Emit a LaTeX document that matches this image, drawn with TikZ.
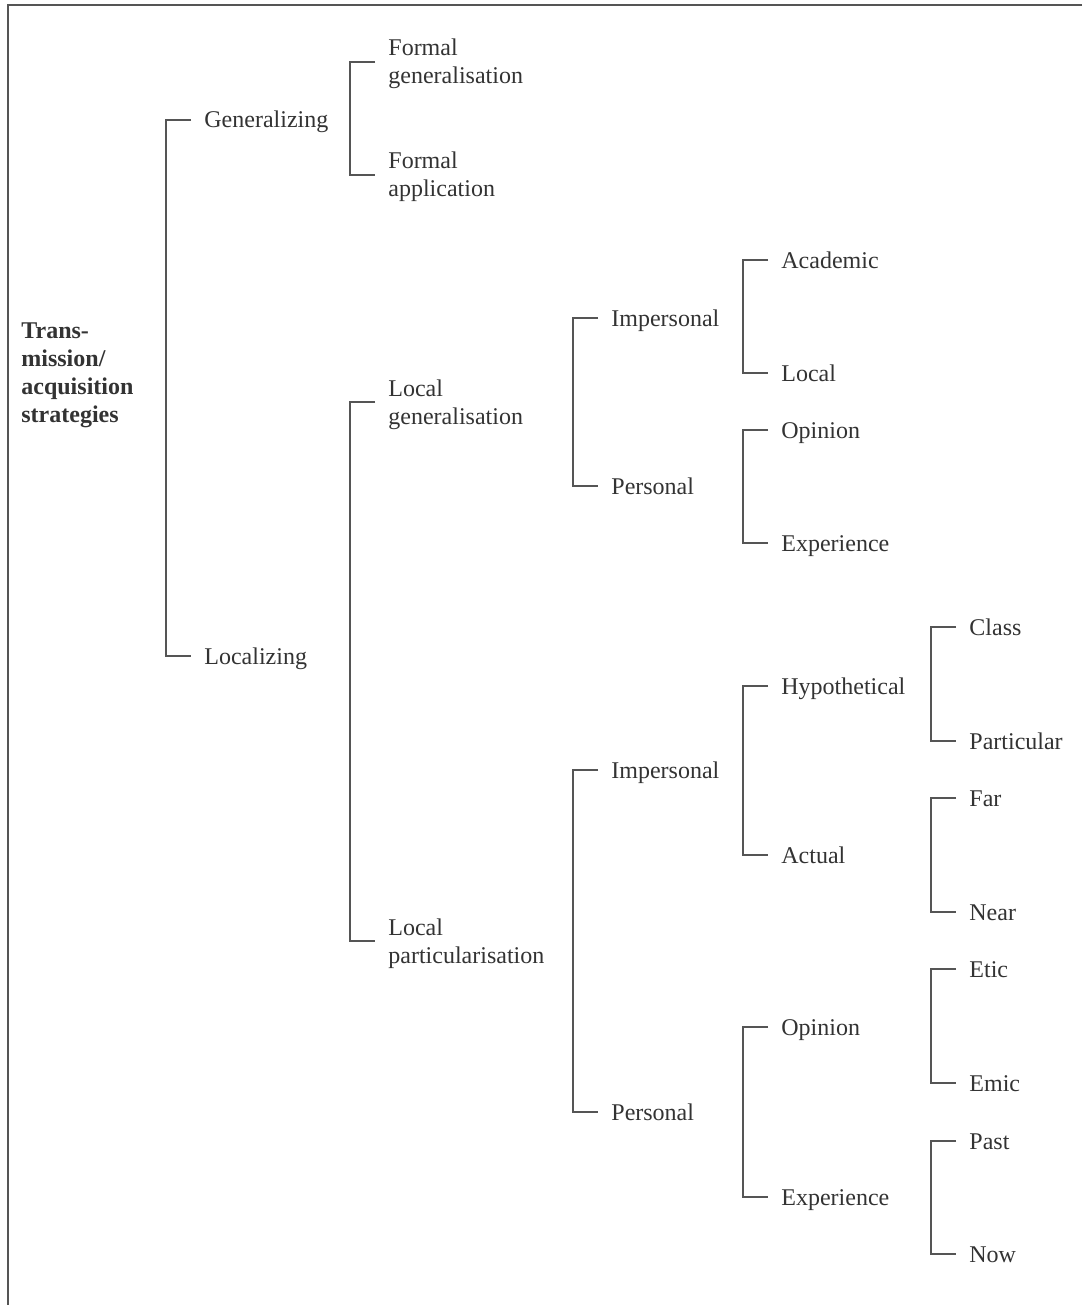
\documentclass[tikz,border=0pt]{standalone}
\usepackage{fontspec}
\setmainfont{Liberation Serif}
\definecolor{inkgrey}{HTML}{333333}
\definecolor{rulegrey}{HTML}{555555}
% two-line label, baseline on the first line
\newcommand{\twoline}[2]{\begin{tabular}[t]{@{}l@{}}#1\\#2\end{tabular}}
\tikzset{
  lbl/.style={anchor=west, inner sep=0pt, text height=11pt, text depth=3pt,
    text=inkgrey, font=\fontsize{12}{14}\selectfont},
  lbltwo/.style={lbl, text depth=17pt},
  rootlbl/.style={anchor=base west, inner sep=0pt, text=inkgrey,
    font=\fontsize{12}{14}\selectfont\bfseries},
  brace/.style={draw=rulegrey, line width=1pt},
  frameline/.style={draw=rulegrey, line width=1pt}
}
% bracket joining two sibling labels
\newcommand{\bracket}[2]{%
  \draw[brace] ([xshift=-6.5pt]#1.west) -- ++(-12.5pt,0) |- ([xshift=-6.5pt]#2.west);}
\begin{document}
\begin{tikzpicture}[x=0.5pt,y=-0.5pt]
\useasboundingbox (0,0) rectangle (1082,1305);
\fill[white] (0,0) rectangle (1082,1305);
% page frame (top and left edges)
\draw[frameline] (1082,5) -- (8,5) -- (8,1305);

% root
\node[rootlbl] (root) at (21,338) {\begin{tabular}[t]{@{}l@{}}Trans-\\mission/\\acquisition\\strategies\end{tabular}};

% level 1
\node[lbl] (gen) at (204,120) {Generalizing};
\node[lbl] (loc) at (204,656) {Localizing};

% level 2
\node[lbltwo] (fg) at (388,62) {\twoline{Formal}{generalisation}};
\node[lbltwo] (fa) at (388,175) {\twoline{Formal}{application}};
\node[lbltwo] (lg) at (388,402) {\twoline{Local}{generalisation}};
\node[lbltwo] (lp) at (388,941) {\twoline{Local}{particularisation}};

% level 3
\node[lbl] (imA) at (611,318) {Impersonal};
\node[lbl] (peA) at (611,486) {Personal};
\node[lbl] (imB) at (611,770) {Impersonal};
\node[lbl] (peB) at (611,1112) {Personal};

% level 4
\node[lbl] (aca) at (781,260) {Academic};
\node[lbl] (lcl) at (781,373) {Local};
\node[lbl] (opA) at (781,430) {Opinion};
\node[lbl] (exA) at (781,543) {Experience};
\node[lbl] (hyp) at (781,686) {Hypothetical};
\node[lbl] (act) at (781,855) {Actual};
\node[lbl] (opB) at (781,1027) {Opinion};
\node[lbl] (exB) at (781,1197) {Experience};

% level 5
\node[lbl] (cls) at (969,627) {Class};
\node[lbl] (par) at (969,741) {Particular};
\node[lbl] (far) at (969,798) {Far};
\node[lbl] (nea) at (969,912) {Near};
\node[lbl] (eti) at (969,969) {Etic};
\node[lbl] (emi) at (969,1083) {Emic};
\node[lbl] (pas) at (969,1141) {Past};
\node[lbl] (now) at (969,1254) {Now};

% brackets
\bracket{gen}{loc}
\bracket{fg}{fa}
\bracket{lg}{lp}
\bracket{imA}{peA}
\bracket{imB}{peB}
\bracket{aca}{lcl}
\bracket{opA}{exA}
\bracket{hyp}{act}
\bracket{opB}{exB}
\bracket{cls}{par}
\bracket{far}{nea}
\bracket{eti}{emi}
\bracket{pas}{now}
\end{tikzpicture}
\end{document}
